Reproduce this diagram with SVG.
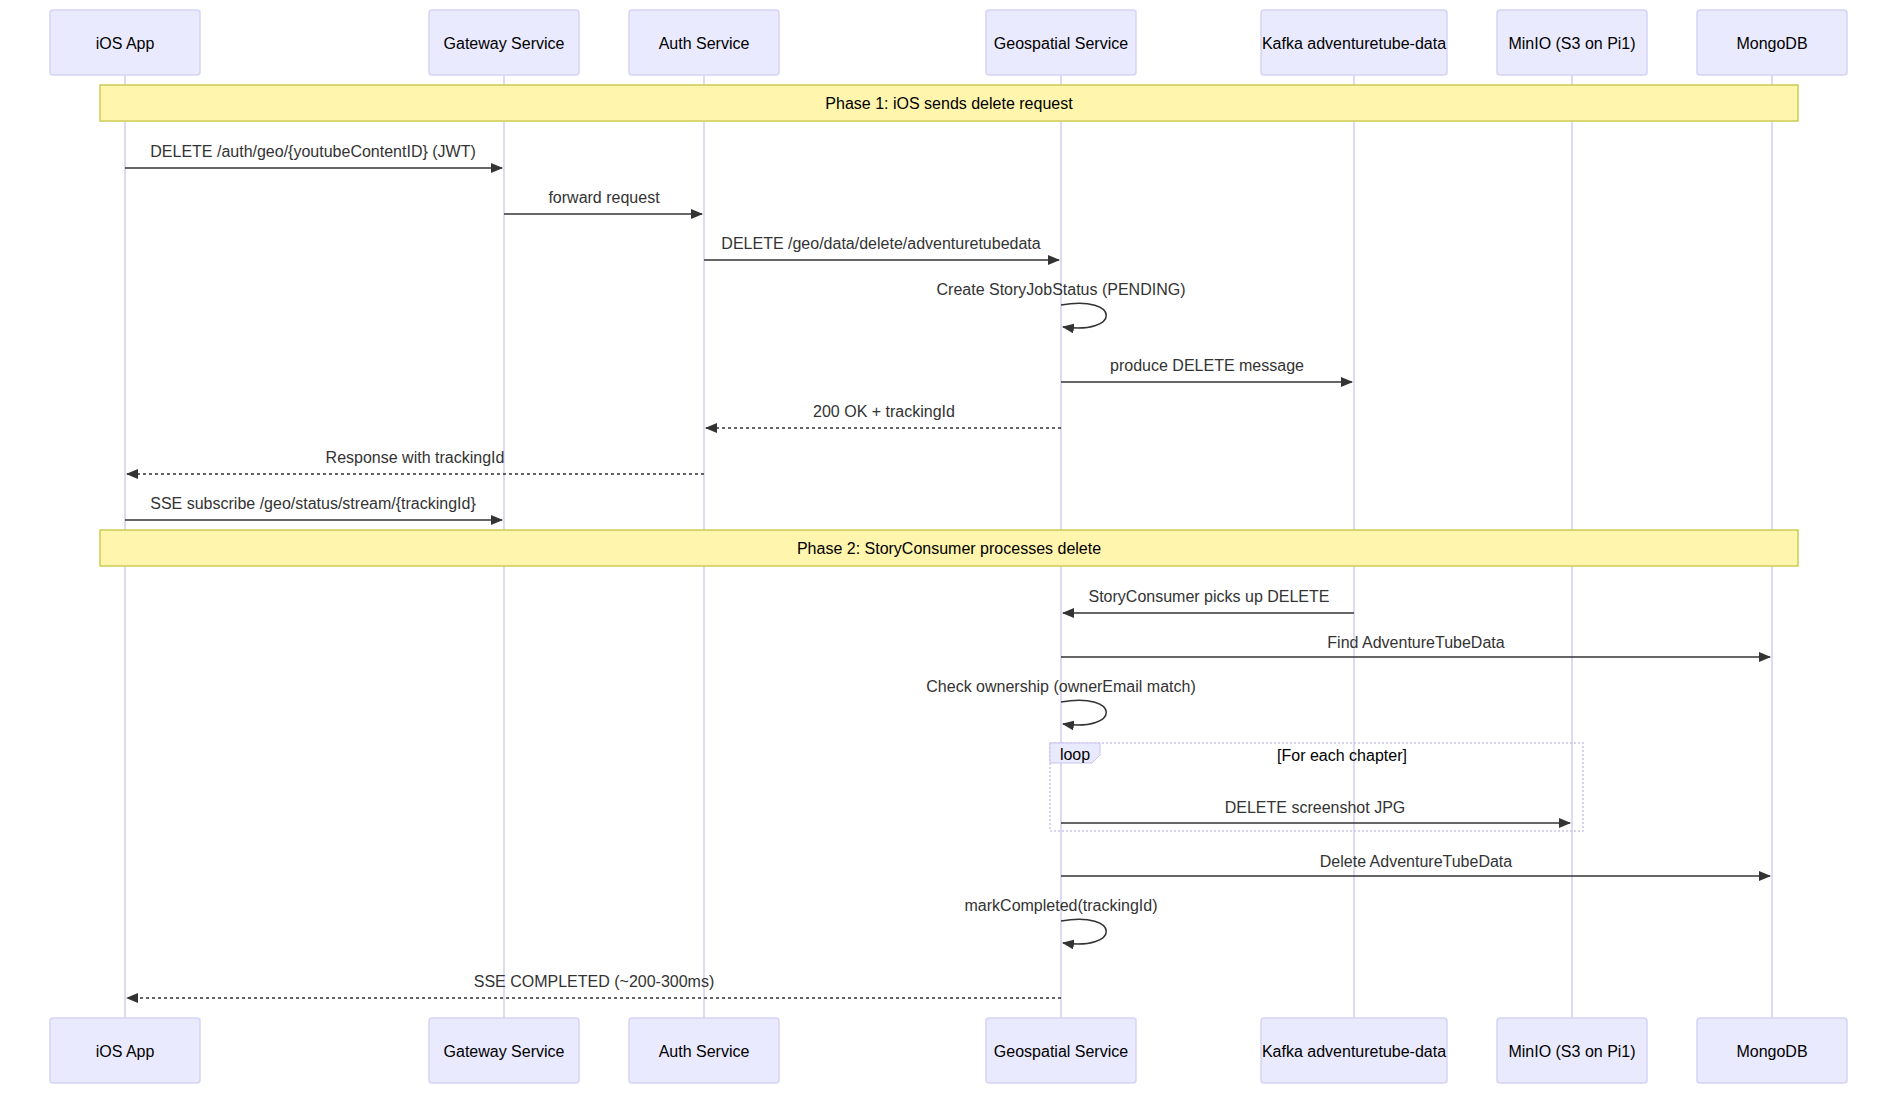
<svg xmlns="http://www.w3.org/2000/svg" width="1897" height="1094" viewBox="0 0 1897 1094">
<style>
text{font-family:"Liberation Sans",Arial,sans-serif;font-size:16px;fill:#333;text-anchor:middle}
.actor rect{fill:#eaeaff;stroke:#d6d3f5;stroke-width:1.5}
.actor text{fill:#000;dominant-baseline:central}
.life{stroke:#d3cdf0;stroke-width:1.5}
.band{fill:#fff5ad;stroke:#cccc55;stroke-width:1.5}
.m{stroke:#333;stroke-width:1.5;fill:none}
.d{stroke-dasharray:3,3}
</style>
<defs>
<marker id="a" viewBox="0 0 12 10" refX="11" refY="5" markerWidth="12" markerHeight="10" orient="auto" markerUnits="userSpaceOnUse"><path d="M0,0L12,5L0,10z" fill="#333"/></marker>
</defs>
<g id="lifelines">
<line class="life" x1="125" y1="75" x2="125" y2="1018"/>
<line class="life" x1="504" y1="75" x2="504" y2="1018"/>
<line class="life" x1="704" y1="75" x2="704" y2="1018"/>
<line class="life" x1="1061" y1="75" x2="1061" y2="1018"/>
<line class="life" x1="1354" y1="75" x2="1354" y2="1018"/>
<line class="life" x1="1572" y1="75" x2="1572" y2="1018"/>
<line class="life" x1="1772" y1="75" x2="1772" y2="1018"/>
</g>
<g id="actors" class="actor">
<g id="ios"><rect x="50" y="10" width="150" height="65" rx="3"/><text x="125" y="43">iOS App</text><rect x="50" y="1018" width="150" height="65" rx="3"/><text x="125" y="1051">iOS App</text></g>
<g id="gateway"><rect x="429" y="10" width="150" height="65" rx="3"/><text x="504" y="43">Gateway Service</text><rect x="429" y="1018" width="150" height="65" rx="3"/><text x="504" y="1051">Gateway Service</text></g>
<g id="auth"><rect x="629" y="10" width="150" height="65" rx="3"/><text x="704" y="43">Auth Service</text><rect x="629" y="1018" width="150" height="65" rx="3"/><text x="704" y="1051">Auth Service</text></g>
<g id="geo"><rect x="986" y="10" width="150" height="65" rx="3"/><text x="1061" y="43">Geospatial Service</text><rect x="986" y="1018" width="150" height="65" rx="3"/><text x="1061" y="1051">Geospatial Service</text></g>
<g id="kafka"><rect x="1261" y="10" width="186" height="65" rx="3"/><text x="1354" y="43">Kafka adventuretube-data</text><rect x="1261" y="1018" width="186" height="65" rx="3"/><text x="1354" y="1051">Kafka adventuretube-data</text></g>
<g id="minio"><rect x="1497" y="10" width="150" height="65" rx="3"/><text x="1572" y="43">MinIO (S3 on Pi1)</text><rect x="1497" y="1018" width="150" height="65" rx="3"/><text x="1572" y="1051">MinIO (S3 on Pi1)</text></g>
<g id="mongo"><rect x="1697" y="10" width="150" height="65" rx="3"/><text x="1772" y="43">MongoDB</text><rect x="1697" y="1018" width="150" height="65" rx="3"/><text x="1772" y="1051">MongoDB</text></g>
</g>
<g id="notes">
<rect class="band" x="100" y="85" width="1698" height="36"/><text x="949" y="109" style="fill:#000">Phase 1: iOS sends delete request</text>
<rect class="band" x="100" y="530" width="1698" height="36"/><text x="949" y="554" style="fill:#000">Phase 2: StoryConsumer processes delete</text>
</g>
<g id="loop">
<rect x="1050" y="743" width="533" height="88" fill="none" stroke="#c9c4ec" stroke-width="1.5" stroke-dasharray="2,2"/>
<path d="M1050,743H1100V755L1092,763H1050z" fill="#eaeaff" stroke="#c9c4ec"/>
<text x="1075" y="760" style="fill:#000">loop</text>
<text x="1342" y="761" style="fill:#000">[For each chapter]</text>
</g>
<g id="connectors">
<text x="313" y="157">DELETE /auth/geo/{youtubeContentID} (JWT)</text>
<line class="m" x1="125" y1="168" x2="502" y2="168" marker-end="url(#a)"/>
<text x="604" y="203">forward request</text>
<line class="m" x1="504" y1="214" x2="702" y2="214" marker-end="url(#a)"/>
<text x="881" y="249">DELETE /geo/data/delete/adventuretubedata</text>
<line class="m" x1="704" y1="260" x2="1059" y2="260" marker-end="url(#a)"/>
<text x="1061" y="295">Create StoryJobStatus (PENDING)</text>
<path class="m" d="M1061,305C1121,295 1121,335 1063,327" marker-end="url(#a)"/>
<text x="1207" y="371">produce DELETE message</text>
<line class="m" x1="1061" y1="382" x2="1352" y2="382" marker-end="url(#a)"/>
<text x="884" y="417">200 OK + trackingId</text>
<line class="m d" x1="1061" y1="428" x2="706" y2="428" marker-end="url(#a)"/>
<text x="415" y="463">Response with trackingId</text>
<line class="m d" x1="704" y1="474" x2="127" y2="474" marker-end="url(#a)"/>
<text x="313" y="509">SSE subscribe /geo/status/stream/{trackingId}</text>
<line class="m" x1="125" y1="520" x2="502" y2="520" marker-end="url(#a)"/>
<text x="1209" y="602">StoryConsumer picks up DELETE</text>
<line class="m" x1="1354" y1="613" x2="1063" y2="613" marker-end="url(#a)"/>
<text x="1416" y="648">Find AdventureTubeData</text>
<line class="m" x1="1061" y1="657" x2="1770" y2="657" marker-end="url(#a)"/>
<text x="1061" y="692">Check ownership (ownerEmail match)</text>
<path class="m" d="M1061,702C1121,692 1121,732 1063,724" marker-end="url(#a)"/>
<text x="1315" y="813">DELETE screenshot JPG</text>
<line class="m" x1="1061" y1="823" x2="1570" y2="823" marker-end="url(#a)"/>
<text x="1416" y="867">Delete AdventureTubeData</text>
<line class="m" x1="1061" y1="876" x2="1770" y2="876" marker-end="url(#a)"/>
<text x="1061" y="911">markCompleted(trackingId)</text>
<path class="m" d="M1061,921C1121,911 1121,951 1063,943" marker-end="url(#a)"/>
<text x="594" y="987">SSE COMPLETED (~200-300ms)</text>
<line class="m d" x1="1061" y1="998" x2="127" y2="998" marker-end="url(#a)"/>
</g>
</svg>
